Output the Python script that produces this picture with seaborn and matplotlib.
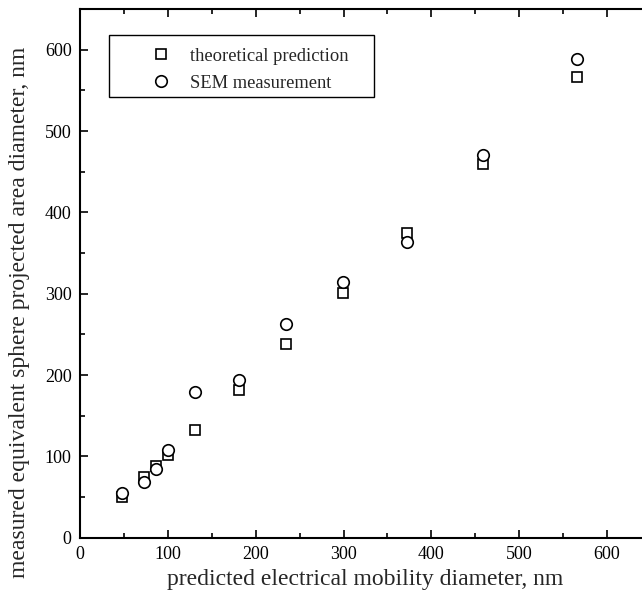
import matplotlib
matplotlib.use("Agg")
import matplotlib.pyplot as plt
import seaborn as sns
import pandas as pd
from matplotlib.ticker import MultipleLocator
from matplotlib.patches import Rectangle

# Data
mobility_diameter = [48, 73, 86, 100, 131, 181, 235, 299, 372, 459, 566]
theoretical = [49.5, 75, 88, 101.5, 133, 181.5, 238, 301, 374.5, 460, 566.5]
sem = [54.5, 69, 84, 107.5, 179, 193.5, 263, 314.5, 363.5, 471, 589]
series_names = ["theoretical prediction", "SEM measurement"]

df = pd.DataFrame({
    "x": mobility_diameter * 2,
    "y": theoretical + sem,
    "series": [series_names[0]] * len(theoretical) + [series_names[1]] * len(sem),
})

sns.set_style("ticks")
plt.rcParams["font.family"] = ["Liberation Serif", "DejaVu Serif"]

fig = plt.figure(figsize=(6.42, 6.02), dpi=100)
ax = fig.add_axes([80 / 642, 64.3 / 602, 571 / 642, 528.7 / 602])

for name, mk, ms in [(series_names[0], "s", 7.0), (series_names[1], "o", 8.3)]:
    sub = df[df["series"] == name]
    sns.lineplot(data=sub, x="x", y="y", ax=ax, marker=mk, markersize=ms,
                 markerfacecolor="white", markeredgecolor="black",
                 markeredgewidth=1.2, linestyle="none", label=name,
                 estimator=None, sort=False)

ax.set_xlim(0, 650)
ax.set_ylim(0, 650)
ax.xaxis.set_major_locator(MultipleLocator(100))
ax.xaxis.set_minor_locator(MultipleLocator(50))
ax.yaxis.set_major_locator(MultipleLocator(100))
ax.yaxis.set_minor_locator(MultipleLocator(50))
ax.tick_params(which="both", direction="in", top=True, right=True, colors="black",
               labelsize=13, width=1.2)
ax.tick_params(which="major", length=6, pad=6)
ax.tick_params(which="minor", length=3.5)
for sp in ax.spines.values():
    sp.set_visible(True)
    sp.set_linewidth(1.5)
    sp.set_color("black")

ax.set_xlabel("predicted electrical mobility diameter, nm", fontsize=17, labelpad=4.4)
ax.set_ylabel("measured equivalent sphere projected area diameter, nm", fontsize=17)
ax.yaxis.set_label_coords((30 - 80) / 571, 0.426)

# legend (frameless) plus a rectangular box around it
leg = ax.legend(loc="upper left", bbox_to_anchor=(0.1095, 0.927), borderaxespad=0,
                borderpad=0, frameon=False, fontsize=13.3,
                handlelength=2.0, handletextpad=0.55, labelspacing=0.55)
ax.add_patch(Rectangle((0.0508, 0.8336), 0.515 - 0.0508, 0.9508 - 0.8336,
                       transform=ax.transAxes, fill=False, edgecolor="black",
                       linewidth=1.0, zorder=5))

fig.savefig("out.png", dpi=100)
